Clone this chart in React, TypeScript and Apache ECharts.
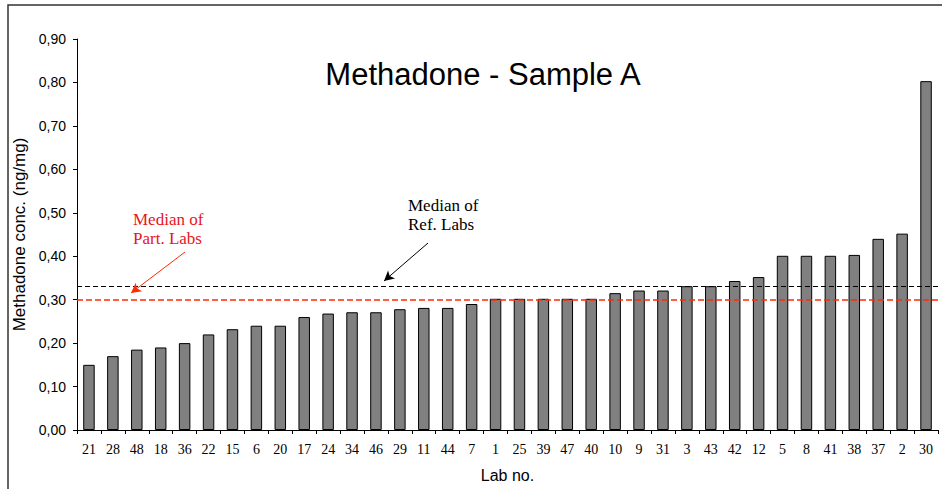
import React, { useEffect, useRef } from "react";
import * as echarts from "echarts";

const labs = ["21","28","48","18","36","22","15","6","20","17","24","34","46","29","11","44","7","1","25","39","47","40","10","9","31","3","43","42","12","5","8","41","38","37","2","30"];
const concentrations = [0.15,0.17,0.185,0.19,0.2,0.22,0.232,0.24,0.24,0.26,0.268,0.271,0.271,0.278,0.281,0.281,0.29,0.302,0.302,0.302,0.302,0.302,0.315,0.321,0.321,0.331,0.331,0.343,0.352,0.401,0.401,0.401,0.403,0.44,0.452,0.803];
const medianRef = 0.333;
const medianPart = 0.302;
const yTicks = { min: 0, max: 0.9, interval: 0.1 };

export default function App() {
  const ref = useRef<HTMLDivElement>(null);
  useEffect(() => {
    if (!ref.current) return;
    const chart = echarts.init(ref.current, undefined, { renderer: "svg" });
    const serif = "Liberation Serif";
    const sans = "Liberation Sans";
    const red = "#ff2a00";
    chart.setOption({
      animation: false,
      backgroundColor: "#fff",
      grid: { left: 77, right: 4, top: 39, bottom: 59, outerBoundsMode: "none", containLabel: false },
      xAxis: {
        type: "category",
        data: labs,
        name: "Lab no.",
        nameLocation: "middle",
        nameGap: 37,
        nameTextStyle: { fontFamily: sans, fontSize: 16, color: "#000" },
        axisLine: { lineStyle: { color: "#000", width: 1 } },
        axisTick: { show: true, alignWithLabel: false, length: 4, lineStyle: { color: "#000" } },
        axisLabel: { fontFamily: serif, fontSize: 14, color: "#000", margin: 12, interval: 0 },
      },
      yAxis: {
        type: "value",
        min: yTicks.min,
        max: yTicks.max,
        interval: yTicks.interval,
        name: "Methadone conc. (ng/mg)",
        nameLocation: "middle",
        nameGap: 46,
        nameTextStyle: { fontFamily: sans, fontSize: 17, color: "#000" },
        axisLine: { show: true, lineStyle: { color: "#000", width: 1 } },
        axisTick: { show: true, length: 4, lineStyle: { color: "#000" } },
        splitLine: { show: false },
        axisLabel: {
          fontFamily: sans,
          fontSize: 14,
          color: "#000",
          margin: 11,
          formatter: (v: number) => v.toFixed(2).replace(".", ","),
        },
      },
      series: [
        {
          type: "bar",
          data: concentrations,
          barWidth: "48%",
          z: 2,
          itemStyle: { color: "#808080", borderColor: "#000", borderWidth: 1 },
        },
        {
          type: "line",
          data: [],
          z: 5,
          markLine: {
            silent: true,
            symbol: "none",
            label: { show: false },
            data: [
              { yAxis: medianRef, lineStyle: { color: "#000", type: [5, 3], width: 1 } },
            ],
          },
        },
        {
          type: "line",
          data: [],
          z: 6,
          markLine: {
            silent: true,
            symbol: "none",
            label: { show: false },
            data: [
              { yAxis: medianPart, lineStyle: { color: red, type: [6, 3], width: 1.5, opacity: 1 } },
            ],
          },
        },
        {
          type: "line",
          data: [],
          z: 6,
          markLine: {
            silent: true,
            symbol: ["none", "arrow"],
            symbolSize: [8, 10],
            label: { show: false },
            lineStyle: { color: red, type: "solid", width: 1 },
            data: [[{ x: 185, y: 252 }, { x: 131, y: 293 }]],
          },
        },
        {
          type: "line",
          data: [],
          z: 6,
          markLine: {
            silent: true,
            symbol: ["none", "arrow"],
            symbolSize: [8, 10],
            label: { show: false },
            lineStyle: { color: "#000", type: "solid", width: 1 },
            data: [[{ x: 428, y: 243 }, { x: 384, y: 281 }]],
          },
        },
      ],
      graphic: [
        {
          type: "rect",
          shape: { x: 8, y: 5, width: 1200, height: 1000 },
          style: { fill: "none", stroke: "#333", lineWidth: 1.5 },
          silent: true,
        },
        {
          type: "text",
          x: 483,
          y: 74,
          style: {
            text: "Methadone - Sample A",
            fontFamily: sans,
            fontSize: 31,
            fill: "#000",
            align: "center",
            verticalAlign: "middle",
          },
        },
        {
          type: "text",
          x: 133,
          y: 210,
          style: {
            text: "Median of\nPart. Labs",
            fontFamily: serif,
            fontSize: 17,
            lineHeight: 19,
            fill: "#e8141c",
            align: "left",
            verticalAlign: "top",
          },
        },
        {
          type: "text",
          x: 408,
          y: 196,
          style: {
            text: "Median of\nRef. Labs",
            fontFamily: serif,
            fontSize: 17,
            lineHeight: 19,
            fill: "#000",
            align: "left",
            verticalAlign: "top",
          },
        },
      ],
    });
    return () => chart.dispose();
  }, []);
  return (
    <div
      ref={ref}
      style={{ position: "fixed", left: 0, top: 0, width: 942, height: 489 }}
    />
  );
}
